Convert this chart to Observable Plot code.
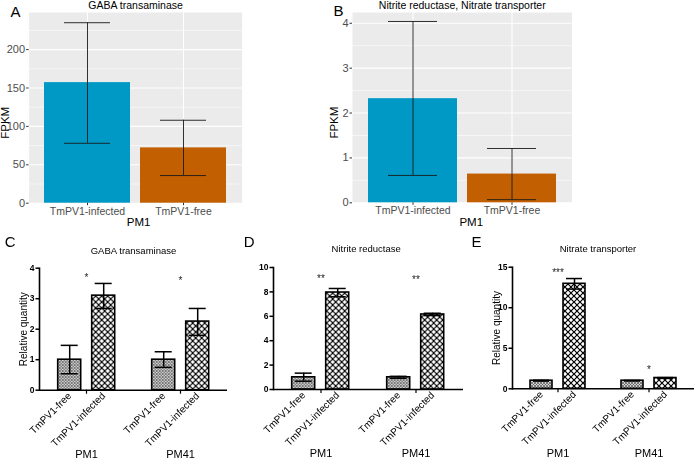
<!DOCTYPE html>
<html>
<head>
<meta charset="utf-8">
<script src="https://cdn.jsdelivr.net/npm/d3@7"></script>
<script src="https://cdn.jsdelivr.net/npm/@observablehq/plot@0.6"></script>
<style>
  html, body { margin: 0; padding: 0; background: #ffffff; }
  #fig { position: relative; width: 696px; height: 463px; overflow: hidden; background: #ffffff; }
  .panel { position: absolute; }
  .panel.mono { filter: grayscale(1); }
</style>
</head>
<body>
<svg width="0" height="0" style="position:absolute">
  <defs>
    <pattern id="pFree" patternUnits="userSpaceOnUse" width="3" height="3">
      <rect width="3" height="3" fill="#d2d2d2"></rect>
      <path d="M-1,-1L4,4M4,-1L-1,4" stroke="#4a4a4a" stroke-width="0.65"></path>
    </pattern>
    <pattern id="pInf" patternUnits="userSpaceOnUse" width="6" height="6">
      <rect width="6" height="6" fill="#ffffff"></rect>
      <path d="M-1,-1L7,7M7,-1L-1,7" stroke="#000000" stroke-width="1.2"></path>
    </pattern>
  </defs>
</svg>
<div id="fig"></div>
<script>
// ---------- data: RNA-seq (panels A, B) ----------
const conditionsTop = ["TmPV1-infected", "TmPV1-free"];
const topColors = ["#0098c4", "#c25f00"];
const gabaFPKM = [157, 72];
const gabaFPKMLow = [78, 36];
const gabaFPKMHigh = [235, 108];
const nitroFPKM = [2.32, 0.64];
const nitroFPKMLow = [0.61, 0.07];
const nitroFPKMHigh = [4.04, 1.21];
const gabaFPKMTicks = [0, 50, 100, 150, 200];
const nitroFPKMTicks = [0, 1, 2, 3, 4];

// ---------- data: qPCR (panels C, D, E) ----------
// order: PM1 free, PM1 infected, PM41 free, PM41 infected
const groups = ["PM1", "PM41"];
const conditionsQ = ["TmPV1-free", "TmPV1-infected"];
const gabaQ = [1.0, 3.1, 1.0, 2.25];
const gabaQLow = [0.54, 2.68, 0.75, 1.8];
const gabaQHigh = [1.47, 3.5, 1.26, 2.68];
const nirQ = [1.0, 7.95, 1.0, 6.15];
const nirQLow = [0.68, 7.6, 0.92, 6.06];
const nirQHigh = [1.34, 8.28, 1.08, 6.25];
const nrtQ = [1.0, 12.95, 1.0, 1.33];
const nrtQLow = [0.95, 12.3, 0.97, 1.28];
const nrtQHigh = [1.05, 13.6, 1.03, 1.38];
const gabaSig = ["*", "*"];
const gabaSigY = [3.76, 3.68];
const nirSig = ["**", "**"];
const nirSigY = [9.3, 9.2];
const nrtSig = ["***", "*"];
const nrtSigY = [14.6, 2.7];
const gabaQTicks = [0, 1, 2, 3, 4];
const nirQTicks = [0, 2, 4, 6, 8, 10];
const nrtQTicks = [0, 5, 10, 15];

const FONT = "'Liberation Sans', Arial, Helvetica, sans-serif";
const fig = document.getElementById("fig");

function place(node, left, top, width, mono) {
  const d = document.createElement("div");
  d.className = mono ? "panel mono" : "panel";
  d.style.left = left + "px";
  d.style.top = top + "px";
  d.style.width = width + "px";
  d.appendChild(node);
  fig.appendChild(d);
}

function ggPanel(o) {
  const rows = conditionsTop.map((c, i) => ({condition: c, value: o.values[i], low: o.lows[i], high: o.highs[i]}));
  return Plot.plot({
    width: o.width, height: o.height,
    marginLeft: o.ml, marginRight: o.mr, marginTop: o.mt, marginBottom: o.mb,
    style: {fontFamily: FONT, fontSize: "10.5px", background: "transparent", overflow: "visible"},
    x: {domain: conditionsTop, paddingInner: 0.1, paddingOuter: 0.15, axis: null},
    y: {domain: [0, o.yMax], axis: null},
    color: {domain: conditionsTop, range: topColors},
    marks: [
      Plot.frame({fill: "#ebebeb", stroke: null}),
      Plot.gridY(o.minors, {stroke: "#ffffff", strokeOpacity: 1, strokeWidth: 0.55}),
      Plot.gridY(o.ticks, {stroke: "#ffffff", strokeOpacity: 1, strokeWidth: 1.1}),
      Plot.gridX(conditionsTop, {stroke: "#ffffff", strokeOpacity: 1, strokeWidth: 1.1}),
      Plot.barY(rows, {x: "condition", y: "value", fill: "condition"}),
      Plot.ruleX(rows, {x: "condition", y1: "low", y2: "high", stroke: "#1a1a1a", strokeWidth: 0.9}),
      Plot.tickY(rows, {x: "condition", y: "low", stroke: "#1a1a1a", strokeWidth: 0.9, insetLeft: 20, insetRight: 20}),
      Plot.tickY(rows, {x: "condition", y: "high", stroke: "#1a1a1a", strokeWidth: 0.9, insetLeft: 20, insetRight: 20}),
      Plot.axisY(o.ticks, {tickSize: 2.5, tickPadding: 1.5, stroke: "#333333", fill: "#4d4d4d", fontSize: 11, label: null}),
      Plot.axisX({tickSize: 2.5, tickPadding: 1.5, stroke: "#333333", fill: "#4d4d4d", fontSize: 10.5, label: null}),
      Plot.text(["PM1"], {frameAnchor: "bottom", textAnchor: "middle", lineAnchor: "middle", dx: o.pmDx, dy: 19.5, fill: "#000000", fontSize: 11.5}),
      Plot.text(["FPKM"], {frameAnchor: "left", textAnchor: "middle", lineAnchor: "middle", rotate: -90, dx: o.ylabDx, dy: 15, fill: "#000000", fontSize: 11.5}),
      Plot.text([o.title], {frameAnchor: "top", textAnchor: "middle", lineAnchor: "middle", dy: -6.5, fill: "#000000", fontSize: 10.5}),
      Plot.text([o.letter], {frameAnchor: "top-left", textAnchor: "middle", lineAnchor: "middle", dx: o.letterDx, dy: o.letterDy, fill: "#000000", fontSize: 15})
    ]
  });
}

function prismPanel(o) {
  const rows = groups.flatMap((g, gi) => conditionsQ.map((c, ci) => ({
    group: g, condition: c,
    value: o.vals[gi * 2 + ci], low: o.lows[gi * 2 + ci], high: o.highs[gi * 2 + ci]
  })));
  const sigRows = groups.map((g, gi) => ({group: g, label: o.sig[gi], y: o.sigY[gi]}));
  const marks = [
    Plot.barY(rows, {fx: "group", x: "condition", y: "value", fill: "condition", stroke: "#000000", strokeWidth: 1.6}),
    Plot.ruleX(rows, {fx: "group", x: "condition", y1: "low", y2: "high", stroke: "#000000", strokeWidth: 1.5}),
    Plot.tickY(rows, {fx: "group", x: "condition", y: "low", stroke: "#000000", strokeWidth: 1.5, insetLeft: 3, insetRight: 3}),
    Plot.tickY(rows, {fx: "group", x: "condition", y: "high", stroke: "#000000", strokeWidth: 1.5, insetLeft: 3, insetRight: 3}),
    Plot.ruleY([0], {stroke: "#000000", strokeWidth: 1.6}),
    Plot.frame({anchor: "left", facetAnchor: "left", stroke: "#000000", strokeWidth: 1.6}),
    Plot.axisY(o.ticks, {tickSize: 3.5, tickPadding: 1.5, strokeWidth: 1.5, fontWeight: "bold", fontSize: 8.5, stroke: "#000000", fill: "#000000", label: null}),
    Plot.axisX({tickSize: 0, tickRotate: -45, tickPadding: 4, fontSize: 10, stroke: "#000000", fill: "#000000", label: null}),
    Plot.axisFx({anchor: "bottom", tickSize: 4, tickPadding: 56, strokeWidth: 1.2, fontSize: 11, stroke: "#000000", fill: "#000000", label: null}),
    Plot.text(sigRows, {fx: "group", y: "y", text: "label", dy: 2.5, fontSize: 10, fill: "#222222"}),
    Plot.text([o.title], {facet: "super", frameAnchor: "top", textAnchor: "middle", lineAnchor: "middle", dx: o.titleDx, dy: o.titleDy, fill: "#000000", fontSize: 9.5}),
    Plot.text([o.letter], {facet: "super", frameAnchor: "top-left", textAnchor: "middle", lineAnchor: "middle", dx: o.letterDx, dy: o.letterDy, fill: "#000000", fontSize: 15})
  ];
  if (o.ylab) {
    marks.push(Plot.text([o.ylab], {facet: "super", frameAnchor: "left", textAnchor: "middle", lineAnchor: "middle", rotate: -90, dx: o.ylabDx, fill: "#000000", fontSize: 10}));
  }
  return Plot.plot({
    width: o.width, height: o.height,
    marginLeft: o.ml, marginRight: o.mr, marginTop: o.mt, marginBottom: o.mb,
    style: {fontFamily: FONT, fontSize: "10px", background: "transparent", overflow: "visible"},
    fx: {domain: groups, padding: 0, axis: null},
    x: {domain: conditionsQ, paddingInner: 0.32, paddingOuter: 0.52, axis: null},
    y: {domain: [0, o.yMax], axis: null},
    color: {domain: conditionsQ, range: ["url(#pFree)", "url(#pInf)"]},
    marks
  });
}

place(ggPanel({
  letter: "A", title: "GABA transaminase",
  values: gabaFPKM, lows: gabaFPKMLow, highs: gabaFPKMHigh,
  yMax: 248.3, ticks: gabaFPKMTicks, minors: [25, 75, 125, 175, 225],
  width: 250, height: 230, ml: 28.6, mr: 8.4, mt: 12, mb: 27.3,
  letterDx: -13.5, letterDy: 0, ylabDx: -23.5, pmDx: 3
}), 0, 0, 250, false);

place(ggPanel({
  letter: "B", title: "Nitrite reductase, Nitrate transporter",
  values: nitroFPKM, lows: nitroFPKMLow, highs: nitroFPKMHigh,
  yMax: 4.24, ticks: nitroFPKMTicks, minors: [0.5, 1.5, 2.5, 3.5],
  width: 255, height: 230, ml: 27, mr: 8.5, mt: 12, mb: 27.7,
  letterDx: -14, letterDy: -1.5, ylabDx: -18.5, pmDx: 9
}), 325, 0, 255, false);

place(prismPanel({
  letter: "C", title: "GABA transaminase", ylab: "Relative quantity",
  vals: gabaQ, lows: gabaQLow, highs: gabaQHigh, sig: gabaSig, sigY: gabaSigY,
  yMax: 4, ticks: gabaQTicks,
  width: 240, height: 233, ml: 39.3, mr: 12.3, mt: 37.7, mb: 73.3,
  letterDx: -29.3, letterDy: -25.7, titleDx: 0, titleDy: -17.7, ylabDx: -15.3
}), 0, 230, 240, true);

place(prismPanel({
  letter: "D", title: "Nitrite reductase", ylab: null,
  vals: nirQ, lows: nirQLow, highs: nirQHigh, sig: nirSig, sigY: nirSigY,
  yMax: 10, ticks: nirQTicks,
  width: 230, height: 233, ml: 33.3, mr: 6.7, mt: 37, mb: 74,
  letterDx: -24.3, letterDy: -25, titleDx: -2.3, titleDy: -19, ylabDx: 0
}), 240, 230, 230, true);

place(prismPanel({
  letter: "E", title: "Nitrate transporter", ylab: "Relative quantity",
  vals: nrtQ, lows: nrtQLow, highs: nrtQHigh, sig: nrtSig, sigY: nrtSigY,
  yMax: 15, ticks: nrtQTicks,
  width: 231, height: 233, ml: 46, mr: 2, mt: 36.7, mb: 74.7,
  letterDx: -36, letterDy: -24.7, titleDx: -5.5, titleDy: -18.4, ylabDx: -15.3
}), 465, 230, 231, true);
</script>
</body>
</html>
